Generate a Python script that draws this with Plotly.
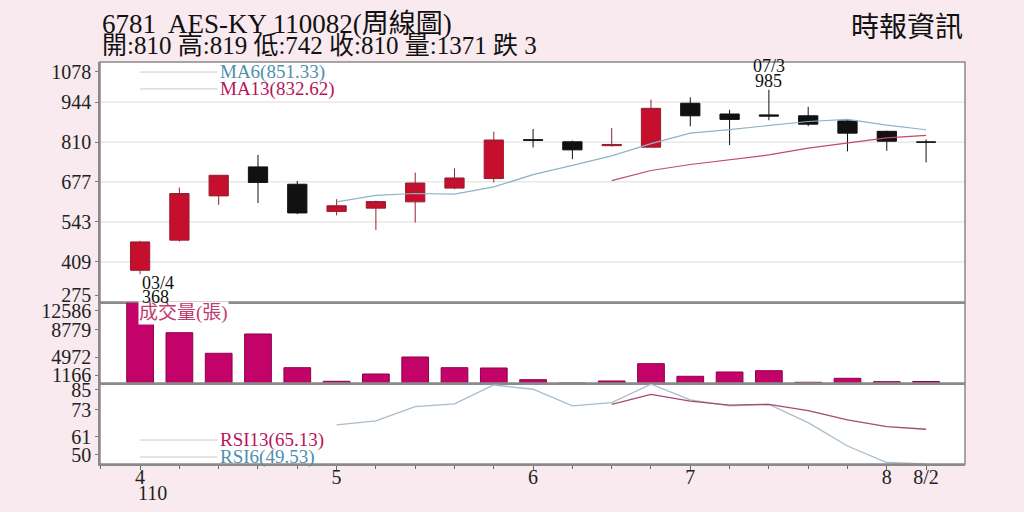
import plotly.graph_objects as go
from plotly.subplots import make_subplots

# weekly bars, AES-KY (6781)
weeks = list(range(21))
opens = [381, 482, 630, 727, 669, 578, 589, 610, 656, 688, 818, 811, 798, 793, 940, 904, 901, 898, 881, 846, 810]
highs = [480, 658, 700, 767, 680, 619, 614, 708, 722, 845, 854, 815, 857, 952, 960, 918, 985, 928, 883, 848, 819]
lows = [368, 477, 600, 606, 569, 565, 516, 541, 652, 675, 792, 753, 795, 792, 863, 800, 883, 863, 779, 781, 742]
closes = [476, 638, 699, 675, 573, 597, 611, 673, 690, 817, 816, 784, 802, 923, 898, 886, 897, 870, 840, 813, 810]

ma6 = [None] * 5 + [610, 632, 638, 636, 660, 701, 732, 764, 805, 840, 852, 865, 879, 886, 867, 851.33]
ma13 = [None] * 12 + [681, 715, 735, 750, 767, 790, 808, 824, 832.62]

volumes = [12586, 8258, 5354, 8075, 3323, 1406, 2435, 4832, 3323, 3281, 1631,
           1166, 1448, 3887, 2111, 2717, 2900, 1265, 1829, 1349, 1371]

rsi6 = [None] * 5 + [67.1, 68.9, 75.3, 76.5, 85.0, 83.1, 75.6, 77.1, 85.4, 78.3, 75.6, 76.3, 68.1, 57.6, 50.2, 49.53]
rsi13 = [None] * 12 + [76.3, 80.8, 77.8, 76.0, 76.3, 73.5, 69.3, 66.3, 65.13]

x_tickvals = [0, 5, 10, 14, 19, 20]
x_ticktext = ["4", "5", "6", "7", "8", "8/2"]

price_grid = [944, 810, 677, 543, 409]
price_ticks = [1045, 944, 810, 677, 543, 409, 298]
price_labels = ["1078", "944", "810", "677", "543", "409", "275"]
vol_ticks = [11317, 8638, 4831, 2293]
vol_labels = ["12586", "8779", "4972", "1166"]
rsi_ticks = [82.8, 73.8, 61.7, 53.6]
rsi_labels = ["85", "73", "61", "50"]

FONT = "Liberation Serif, Noto Sans CJK TC, serif"
RED = "#c50f2c"
MAGENTA = "#c4036a"

fig = make_subplots(rows=3, cols=1, shared_xaxes=True, vertical_spacing=0)

fig.add_trace(go.Candlestick(
    x=weeks, open=opens, high=highs, low=lows, close=closes,
    increasing=dict(fillcolor=RED, line=dict(color="#9a1e30", width=1)),
    decreasing=dict(fillcolor="#111111", line=dict(color="#111111", width=1)),
    whiskerwidth=0, hoverinfo="skip"), row=1, col=1)
fig.add_trace(go.Scatter(x=weeks, y=ma6, mode="lines",
                         line=dict(color="#8fb3c6", width=1.2)), row=1, col=1)
fig.add_trace(go.Scatter(x=weeks, y=ma13, mode="lines",
                         line=dict(color="#c24a6c", width=1.2)), row=1, col=1)

fig.add_trace(go.Bar(x=weeks, y=volumes, width=0.68, marker_color=MAGENTA,
                     marker_line=dict(color="#8c0049", width=1)), row=2, col=1)

fig.add_trace(go.Scatter(x=weeks, y=rsi6, mode="lines",
                         line=dict(color="#a9bccb", width=1.3)), row=3, col=1)
fig.add_trace(go.Scatter(x=weeks, y=rsi13, mode="lines",
                         line=dict(color="#a64a6c", width=1.3)), row=3, col=1)

for g in price_grid:
    fig.add_hline(y=g, line=dict(color="#dcdcdc", width=1), layer="below", row=1, col=1)

tickfont = dict(family=FONT, size=20, color="#222222")
fig.update_xaxes(range=[-1.02, 20.99], showgrid=False, zeroline=False, automargin=False,
                 rangeslider_visible=False, showticklabels=False,
                 showline=True, linecolor="#8a8a8a", linewidth=1.5)
fig.update_xaxes(row=3, col=1, showticklabels=True, tickvals=x_tickvals, ticktext=x_ticktext,
                 ticks="outside", ticklen=4, tickcolor="#666", tickfont=tickfont,
                 ticklabelstandoff=-10,
                 minor=dict(dtick=1, tick0=0, ticks="outside", ticklen=3, tickcolor="#666"))

fig.update_yaxes(showgrid=False, zeroline=False, showline=True, linecolor="#8a8a8a",
                 automargin=False, linewidth=1.5, ticks="outside", ticklen=3,
                 tickcolor="#777", tickfont=tickfont)
fig.update_yaxes(row=1, col=1, range=[275, 1078], tickvals=price_ticks, ticktext=price_labels,
                 domain=[0.403, 1.0])
fig.update_yaxes(row=2, col=1, range=[1166, 12586], tickvals=vol_ticks, ticktext=vol_labels,
                 domain=[0.2015, 0.403])
fig.update_yaxes(row=3, col=1, range=[49.53, 85.9], tickvals=rsi_ticks, ticktext=rsi_labels,
                 domain=[0.0, 0.2015])

# frame and panel separators
fig.add_shape(type="rect", xref="paper", yref="paper", x0=0, x1=1, y0=0, y1=1,
              line=dict(color="#8a8a8a", width=1.5))
for yy in [0.403, 0.2015]:
    fig.add_shape(type="line", xref="paper", yref="paper", x0=0, x1=1, y0=yy, y1=yy,
                  line=dict(color="#8a8a8a", width=1.5))

# year under the first month label
fig.add_annotation(xref="x3", yref="paper", x=0, y=-0.073, text="110", showarrow=False,
                   xanchor="left", xshift=-4, yanchor="middle", font=tickfont)

# legend stubs
legend_items = [
    (0.975, "MA6(851.33)", "#4f8fae"),
    (0.933, "MA13(832.62)", "#b8145a"),
    (0.0597, "RSI13(65.13)", "#b8145a"),
    (0.0174, "RSI6(49.53)", "#4f8fae"),
]
for yy, label, col in legend_items:
    fig.add_shape(type="line", xref="paper", yref="paper", x0=0.046, x1=0.136, y0=yy, y1=yy,
                  line=dict(color="#cccccc", width=1))
    fig.add_annotation(xref="paper", yref="paper", x=0.136, y=yy, text=label, showarrow=False,
                       xanchor="left", yanchor="middle", font=dict(family=FONT, size=19, color=col))

fig.add_annotation(xref="paper", yref="paper", x=0.044, y=0.3756, text="成交量(張)", showarrow=False,
                   xanchor="left", yanchor="middle", bgcolor="white", borderpad=0,
                   font=dict(family=FONT, size=19, color="#c23a6c"))

# high / low notes
fig.add_annotation(x=0, y=368, xref="x", yref="y", text="03/4", showarrow=False,
                   xanchor="left", yanchor="middle", yshift=-9,
                   font=dict(family=FONT, size=18, color="#111111"))
fig.add_annotation(x=0, y=368, xref="x", yref="y", text="368", showarrow=False,
                   xanchor="left", yanchor="middle", yshift=-23,
                   font=dict(family=FONT, size=18, color="#111111"))
fig.add_annotation(x=16, y=985, xref="x", yref="y", text="985", showarrow=False,
                   xanchor="center", yanchor="bottom", yshift=-3,
                   font=dict(family=FONT, size=18, color="#111111"))
fig.add_annotation(x=16, y=985, xref="x", yref="y", text="07/3", showarrow=False,
                   xanchor="center", yanchor="bottom", yshift=12,
                   font=dict(family=FONT, size=18, color="#111111"))

# header
fig.add_annotation(xref="paper", yref="paper", x=0.0, y=1.095, text="6781  AES-KY 110082(周線圖)",
                   showarrow=False, xanchor="left", yanchor="middle",
                   font=dict(family=FONT, size=27, color="#111111"))
fig.add_annotation(xref="paper", yref="paper", x=0.0, y=1.04,
                   text="開:810 高:819 低:742 收:810 量:1371 跌 3",
                   showarrow=False, xanchor="left", yanchor="middle",
                   font=dict(family=FONT, size=25, color="#111111"))
fig.add_annotation(xref="paper", yref="paper", x=1.0, y=1.085, text="時報資訊",
                   showarrow=False, xanchor="right", yanchor="middle",
                   font=dict(family=FONT, size=28, color="#111111"))

fig.update_layout(width=1024, height=512, margin=dict(l=100, r=59, t=62, b=48),
                  paper_bgcolor="#f8eaef", plot_bgcolor="white", showlegend=False,
                  bargap=0.3)

fig.write_html("out.html", config={"displayModeBar": False},
               post_script="document.body.style.margin='0';")
